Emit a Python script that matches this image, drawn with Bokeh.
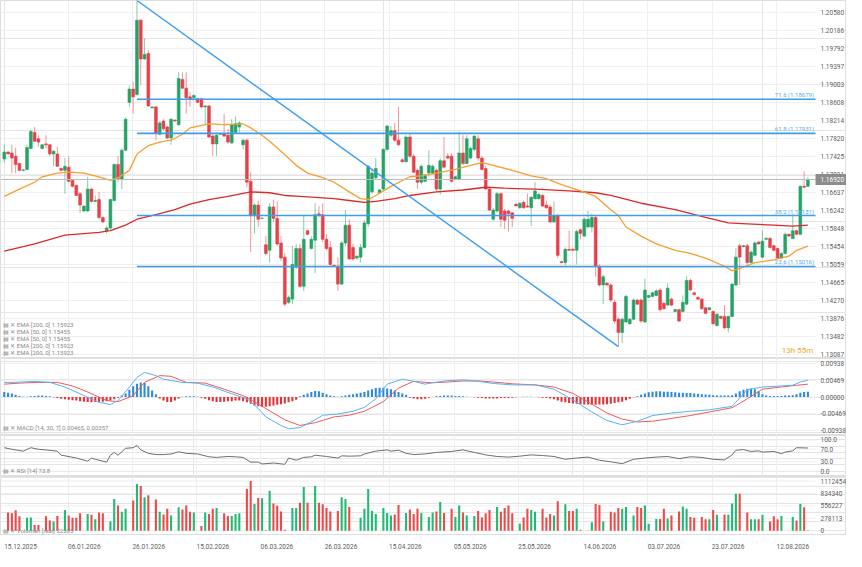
from bokeh.plotting import figure
from bokeh.layouts import column
from bokeh.models import (ColumnDataSource, FixedTicker, CustomJSTickFormatter, Range1d,
                          Label, Grid)
from bokeh.embed import file_html
from bokeh.resources import INLINE
from bokeh.core.properties import value

# ---------------- data ----------------
opens = [1.1737, 1.1752, 1.1750, 1.1743, 1.1727, 1.1712, 1.1714, 1.1760, 1.1795, 1.1781,
         1.1760, 1.1770, 1.1768, 1.1748, 1.1748, 1.1716, 1.1712, 1.1719, 1.1690, 1.1679,
         1.1661, 1.1623, 1.1623, 1.1671, 1.1644, 1.1648, 1.1609, 1.1580, 1.1586, 1.1646,
         1.1725, 1.1692, 1.1756, 1.1861, 1.1890, 1.1878, 1.2041, 1.1956, 1.1968, 1.1849,
         1.1851, 1.1791, 1.1820, 1.1807, 1.1783, 1.1822, 1.1812, 1.1911, 1.1892, 1.1873,
         1.1871, 1.1869, 1.1869, 1.1851, 1.1853, 1.1787, 1.1770, 1.1791, 1.1793, 1.1789,
         1.1772, 1.1795, 1.1807, 1.1768, 1.1778, 1.1688, 1.1613, 1.1636, 1.1607, 1.1549,
         1.1537, 1.1632, 1.1607, 1.1553, 1.1522, 1.1423, 1.1430, 1.1500, 1.1541, 1.1458,
         1.1580, 1.1541, 1.1559, 1.1617, 1.1615, 1.1561, 1.1543, 1.1504, 1.1502, 1.1463,
         1.1553, 1.1592, 1.1543, 1.1520, 1.1522, 1.1543, 1.1595, 1.1665, 1.1696, 1.1663,
         1.1671, 1.1758, 1.1789, 1.1799, 1.1778, 1.1735, 1.1731, 1.1785, 1.1743, 1.1712,
         1.1686, 1.1688, 1.1706, 1.1706, 1.1712, 1.1671, 1.1733, 1.1743, 1.1743, 1.1692,
         1.1692, 1.1750, 1.1727, 1.1739, 1.1758, 1.1781, 1.1739, 1.1716, 1.1671, 1.1605,
         1.1623, 1.1661, 1.1623, 1.1623, 1.1619, 1.1638, 1.1630, 1.1642, 1.1634, 1.1630,
         1.1650, 1.1650, 1.1657, 1.1636, 1.1632, 1.1599, 1.1613, 1.1512, 1.1510, 1.1539,
         1.1539, 1.1537, 1.1582, 1.1568, 1.1588, 1.1588, 1.1609, 1.1502, 1.1461, 1.1465,
         1.1461, 1.1423, 1.1386, 1.1357, 1.1380, 1.1376, 1.1386, 1.1428, 1.1428, 1.1380,
         1.1434, 1.1436, 1.1438, 1.1450, 1.1421, 1.1417, 1.1430, 1.1403, 1.1407, 1.1403,
         1.1419, 1.1471, 1.1444, 1.1434, 1.1430, 1.1411, 1.1407, 1.1403, 1.1372, 1.1392,
         1.1392, 1.1367, 1.1392, 1.1461, 1.1547, 1.1545, 1.1547, 1.1510, 1.1526, 1.1555,
         1.1522, 1.1561, 1.1563, 1.1547, 1.1541, 1.1520, 1.1530, 1.1572, 1.1563, 1.1580,
         1.1572, 1.1677, 1.1677]
highs = [1.1768, 1.1754, 1.1768, 1.1762, 1.1729, 1.1716, 1.1768, 1.1801, 1.1807, 1.1789,
         1.1770, 1.1789, 1.1770, 1.1756, 1.1764, 1.1719, 1.1739, 1.1743, 1.1692, 1.1681,
         1.1665, 1.1634, 1.1698, 1.1673, 1.1657, 1.1665, 1.1611, 1.1590, 1.1650, 1.1727,
         1.1743, 1.1760, 1.1828, 1.1898, 1.1906, 1.2084, 1.2043, 1.2001, 1.1975, 1.1853,
         1.1853, 1.1820, 1.1824, 1.1809, 1.1826, 1.1824, 1.1927, 1.1927, 1.1927, 1.1884,
         1.1878, 1.1871, 1.1871, 1.1855, 1.1855, 1.1795, 1.1795, 1.1793, 1.1836, 1.1803,
         1.1824, 1.1830, 1.1820, 1.1781, 1.1781, 1.1708, 1.1640, 1.1646, 1.1609, 1.1568,
         1.1640, 1.1648, 1.1644, 1.1568, 1.1530, 1.1438, 1.1547, 1.1551, 1.1551, 1.1615,
         1.1582, 1.1568, 1.1640, 1.1634, 1.1640, 1.1572, 1.1557, 1.1506, 1.1522, 1.1557,
         1.1625, 1.1605, 1.1551, 1.1526, 1.1551, 1.1603, 1.1723, 1.1716, 1.1739, 1.1671,
         1.1760, 1.1812, 1.1809, 1.1816, 1.1851, 1.1739, 1.1789, 1.1791, 1.1748, 1.1716,
         1.1725, 1.1704, 1.1756, 1.1725, 1.1716, 1.1739, 1.1785, 1.1750, 1.1750, 1.1700,
         1.1797, 1.1789, 1.1789, 1.1764, 1.1789, 1.1789, 1.1743, 1.1721, 1.1675, 1.1630,
         1.1665, 1.1663, 1.1628, 1.1625, 1.1621, 1.1640, 1.1642, 1.1646, 1.1661, 1.1655,
         1.1686, 1.1663, 1.1661, 1.1646, 1.1636, 1.1644, 1.1617, 1.1514, 1.1543, 1.1580,
         1.1543, 1.1582, 1.1584, 1.1609, 1.1623, 1.1617, 1.1613, 1.1506, 1.1483, 1.1467,
         1.1465, 1.1428, 1.1390, 1.1390, 1.1440, 1.1388, 1.1432, 1.1430, 1.1432, 1.1475,
         1.1440, 1.1446, 1.1452, 1.1454, 1.1423, 1.1465, 1.1434, 1.1409, 1.1409, 1.1438,
         1.1481, 1.1475, 1.1446, 1.1436, 1.1432, 1.1413, 1.1413, 1.1405, 1.1399, 1.1394,
         1.1417, 1.1394, 1.1465, 1.1541, 1.1551, 1.1549, 1.1551, 1.1537, 1.1557, 1.1557,
         1.1580, 1.1566, 1.1566, 1.1549, 1.1543, 1.1533, 1.1576, 1.1574, 1.1615, 1.1582,
         1.1679, 1.1710, 1.1698]
lows = [1.1729, 1.1748, 1.1706, 1.1706, 1.1710, 1.1710, 1.1712, 1.1758, 1.1774, 1.1764,
        1.1758, 1.1760, 1.1743, 1.1721, 1.1719, 1.1710, 1.1661, 1.1686, 1.1675, 1.1657,
        1.1619, 1.1621, 1.1621, 1.1642, 1.1643, 1.1605, 1.1597, 1.1574, 1.1582, 1.1644,
        1.1686, 1.1671, 1.1754, 1.1851, 1.1836, 1.1876, 1.1898, 1.1954, 1.1851, 1.1847,
        1.1778, 1.1789, 1.1799, 1.1781, 1.1768, 1.1818, 1.1810, 1.1890, 1.1836, 1.1851,
        1.1869, 1.1859, 1.1847, 1.1812, 1.1783, 1.1743, 1.1743, 1.1789, 1.1785, 1.1770,
        1.1770, 1.1793, 1.1795, 1.1758, 1.1675, 1.1533, 1.1574, 1.1588, 1.1605, 1.1526,
        1.1510, 1.1599, 1.1547, 1.1514, 1.1415, 1.1419, 1.1419, 1.1496, 1.1456, 1.1448,
        1.1570, 1.1539, 1.1487, 1.1609, 1.1555, 1.1537, 1.1502, 1.1502, 1.1448, 1.1461,
        1.1547, 1.1516, 1.1514, 1.1516, 1.1510, 1.1541, 1.1588, 1.1661, 1.1692, 1.1661,
        1.1667, 1.1754, 1.1785, 1.1774, 1.1766, 1.1729, 1.1729, 1.1739, 1.1706, 1.1671,
        1.1681, 1.1686, 1.1698, 1.1702, 1.1667, 1.1659, 1.1716, 1.1737, 1.1686, 1.1690,
        1.1690, 1.1723, 1.1725, 1.1737, 1.1754, 1.1733, 1.1712, 1.1669, 1.1623, 1.1601,
        1.1619, 1.1588, 1.1584, 1.1578, 1.1588, 1.1634, 1.1628, 1.1628, 1.1630, 1.1590,
        1.1648, 1.1648, 1.1632, 1.1628, 1.1597, 1.1597, 1.1520, 1.1508, 1.1504, 1.1535,
        1.1535, 1.1506, 1.1561, 1.1566, 1.1586, 1.1576, 1.1479, 1.1458, 1.1419, 1.1458,
        1.1423, 1.1376, 1.1326, 1.1334, 1.1378, 1.1374, 1.1384, 1.1417, 1.1378, 1.1378,
        1.1432, 1.1434, 1.1436, 1.1403, 1.1407, 1.1415, 1.1415, 1.1401, 1.1380, 1.1401,
        1.1417, 1.1448, 1.1438, 1.1428, 1.1407, 1.1397, 1.1405, 1.1374, 1.1370, 1.1386,
        1.1365, 1.1357, 1.1390, 1.1458, 1.1461, 1.1543, 1.1506, 1.1508, 1.1524, 1.1549,
        1.1520, 1.1559, 1.1541, 1.1535, 1.1518, 1.1518, 1.1528, 1.1566, 1.1561, 1.1570,
        1.1570, 1.1673, 1.1675]
closes = [1.1752, 1.1748, 1.1739, 1.1725, 1.1712, 1.1713, 1.1762, 1.1797, 1.1776, 1.1774,
          1.1768, 1.1768, 1.1748, 1.1754, 1.1721, 1.1712, 1.1721, 1.1688, 1.1677, 1.1657,
          1.1636, 1.1634, 1.1671, 1.1644, 1.1646, 1.1609, 1.1599, 1.1586, 1.1648, 1.1725,
          1.1694, 1.1756, 1.1824, 1.1890, 1.1873, 1.2041, 1.1956, 1.1966, 1.1853, 1.1851,
          1.1793, 1.1816, 1.1803, 1.1783, 1.1824, 1.1820, 1.1913, 1.1892, 1.1871, 1.1869,
          1.1876, 1.1861, 1.1851, 1.1853, 1.1785, 1.1770, 1.1789, 1.1793, 1.1787, 1.1774,
          1.1812, 1.1814, 1.1816, 1.1778, 1.1686, 1.1613, 1.1636, 1.1605, 1.1607, 1.1530,
          1.1632, 1.1607, 1.1551, 1.1520, 1.1419, 1.1434, 1.1506, 1.1541, 1.1458, 1.1561,
          1.1572, 1.1561, 1.1615, 1.1615, 1.1561, 1.1541, 1.1506, 1.1502, 1.1463, 1.1553,
          1.1592, 1.1518, 1.1518, 1.1524, 1.1543, 1.1597, 1.1721, 1.1706, 1.1716, 1.1669,
          1.1758, 1.1809, 1.1799, 1.1778, 1.1768, 1.1731, 1.1785, 1.1743, 1.1708, 1.1686,
          1.1721, 1.1702, 1.1723, 1.1721, 1.1671, 1.1733, 1.1719, 1.1739, 1.1688, 1.1698,
          1.1750, 1.1727, 1.1781, 1.1760, 1.1787, 1.1739, 1.1714, 1.1671, 1.1625, 1.1625,
          1.1661, 1.1605, 1.1603, 1.1617, 1.1607, 1.1634, 1.1640, 1.1630, 1.1632, 1.1653,
          1.1667, 1.1659, 1.1634, 1.1630, 1.1599, 1.1613, 1.1526, 1.1510, 1.1539, 1.1537,
          1.1537, 1.1578, 1.1574, 1.1605, 1.1605, 1.1609, 1.1502, 1.1461, 1.1479, 1.1461,
          1.1428, 1.1382, 1.1357, 1.1386, 1.1436, 1.1386, 1.1428, 1.1419, 1.1382, 1.1450,
          1.1438, 1.1444, 1.1448, 1.1407, 1.1409, 1.1454, 1.1417, 1.1407, 1.1382, 1.1423,
          1.1471, 1.1450, 1.1440, 1.1430, 1.1409, 1.1399, 1.1411, 1.1376, 1.1397, 1.1388,
          1.1367, 1.1392, 1.1463, 1.1522, 1.1522, 1.1547, 1.1510, 1.1533, 1.1553, 1.1551,
          1.1557, 1.1563, 1.1543, 1.1537, 1.1520, 1.1530, 1.1572, 1.1568, 1.1580, 1.1572,
          1.1677, 1.1675, 1.1692]
volumes = [0, 409000, 389000, 456000, 322000, 0, 288000, 294000, 127000, 127000,
           0, 322000, 228000, 208000, 329000, 0, 463000, 343000, 288000, 288000,
           389000, 0, 375000, 355000, 254000, 409000, 389000, 0, 208000, 711000,
           564000, 423000, 490000, 0, 677000, 1048000, 1000000, 746000, 792000, 0,
           697000, 423000, 363000, 490000, 343000, 0, 524000, 476000, 564000, 423000,
           409000, 0, 107000, 409000, 375000, 490000, 510000, 0, 389000, 329000,
           329000, 375000, 389000, 0, 933000, 1114000, 597000, 732000, 725000, 10000,
           893000, 611000, 557000, 429000, 20000, 0, 510000, 510000, 625000, 980000,
           625000, 5000, 1000000, 625000, 590000, 510000, 429000, 0, 443000, 746000,
           711000, 530000, 0, 0, 288000, 490000, 933000, 443000, 375000, 0,
           510000, 395000, 343000, 363000, 576000, 0, 395000, 476000, 375000, 490000,
           395000, 0, 308000, 409000, 429000, 645000, 395000, 0, 490000, 308000,
           564000, 409000, 343000, 0, 329000, 443000, 294000, 389000, 463000, 0,
           530000, 423000, 510000, 564000, 389000, 0, 161000, 294000, 490000, 463000,
           423000, 0, 490000, 294000, 375000, 343000, 657000, 0, 590000, 443000,
           443000, 490000, 20000, 0, 5000, 187000, 597000, 576000, 208000, 0,
           423000, 409000, 510000, 490000, 530000, 0, 343000, 530000, 510000, 564000,
           153000, 0, 262000, 262000, 490000, 274000, 343000, 0, 429000, 542000,
           490000, 308000, 288000, 0, 308000, 254000, 254000, 463000, 355000, 0,
           363000, 355000, 611000, 826000, 826000, 0, 409000, 254000, 254000, 254000,
           355000, 0, 208000, 322000, 254000, 329000, 0, 0, 308000, 228000,
           597000, 524000, 10000]
macd_hist = [0.0014, 0.0012, 0.0010, 0.0006, 0.0003, 0.0001, 0.0001, 0.0002, 0.0003, 0.0004,
             0.0004, 0.0003, 0.0002, -0.0001, -0.0003, -0.0005, -0.0006, -0.0008, -0.0009, -0.0010,
             -0.0012, -0.0013, -0.0014, -0.0015, -0.0014, -0.0013, -0.0013, -0.0012, -0.0010, -0.0006,
             -0.0002, 0.0004, 0.0010, 0.0020, 0.0030, 0.0037, 0.0041, 0.0040, 0.0030, 0.0018,
             0.0008, -0.0004, -0.0010, -0.0014, -0.0014, -0.0010, -0.0004, 0.0001, 0.0002, 0.0002,
             0.0002, 0.0001, -0.0002, -0.0005, -0.0009, -0.0012, -0.0014, -0.0014, -0.0013, -0.0012,
             -0.0012, -0.0010, -0.0010, -0.0012, -0.0015, -0.0019, -0.0023, -0.0026, -0.0027, -0.0027,
             -0.0026, -0.0024, -0.0022, -0.0020, -0.0018, -0.0015, -0.0012, -0.0008, 0.0002, 0.0006,
             0.0010, 0.0014, 0.0017, 0.0016, 0.0012, 0.0008, 0.0004, 0.0002, 0.0001, 0.0002,
             0.0004, 0.0006, 0.0008, 0.0010, 0.0012, 0.0014, 0.0018, 0.0022, 0.0025, 0.0026,
             0.0026, 0.0024, 0.0022, 0.0018, 0.0014, 0.0010, 0.0006, -0.0002, -0.0004, -0.0006,
             -0.0006, -0.0005, -0.0002, 0.0000, 0.0002, 0.0003, 0.0004, 0.0004, 0.0004, 0.0003,
             0.0003, 0.0002, 0.0001, 0.0000, -0.0001, -0.0002, -0.0003, -0.0004, -0.0004, -0.0004,
             -0.0004, -0.0003, -0.0003, -0.0003, -0.0002, -0.0001, 0.0000, 0.0001, 0.0001, 0.0001,
             0.0000, -0.0001, -0.0002, -0.0003, -0.0004, -0.0006, -0.0010, -0.0013, -0.0015, -0.0017,
             -0.0018, -0.0019, -0.0020, -0.0021, -0.0021, -0.0022, -0.0022, -0.0021, -0.0021, -0.0020,
             -0.0019, -0.0017, -0.0015, -0.0013, -0.0009, -0.0005, -0.0001, 0.0002, 0.0006, 0.0010,
             0.0013, 0.0015, 0.0016, 0.0016, 0.0015, 0.0015, 0.0014, 0.0013, 0.0012, 0.0012,
             0.0011, 0.0011, 0.0010, 0.0009, 0.0008, 0.0007, 0.0006, 0.0005, 0.0004, 0.0004,
             0.0004, 0.0004, 0.0005, 0.0010, 0.0016, 0.0020, 0.0023, 0.0024, 0.0022, 0.0016,
             0.0008, 0.0004, 0.0003, 0.0003, 0.0003, 0.0003, 0.0004, 0.0004, 0.0005, 0.0008,
             0.0012, 0.0014, 0.0015]

macd_idx = [0, 3, 8, 12, 16, 21, 25, 28, 30, 33, 35, 37, 40, 42, 47, 51, 55, 60, 64, 67,
            69, 73, 75, 78, 82, 84, 88, 92, 95, 98, 101, 105, 108, 111, 113, 117, 121, 125, 129, 134,
            140, 145, 150, 155, 159, 163, 167, 171, 176, 181, 186, 192, 196, 200, 205, 208, 210, 212]
macd_line = [0.0041, 0.0041, 0.0044, 0.0041, 0.0028, 0.0004, -0.0015, -0.0021, -0.0010, 0.0028,
             0.0055, 0.0069, 0.0060, 0.0050, 0.0041, 0.0039, 0.0028, 0.0009, -0.0005, -0.0032,
             -0.0056, -0.0080, -0.0089, -0.0086, -0.0064, -0.0051, -0.0048, -0.0040, -0.0029, -0.0005,
             0.0036, 0.0050, 0.0044, 0.0036, 0.0040, 0.0046, 0.0048, 0.0044, 0.0038, 0.0034,
             0.0034, 0.0022, -0.0008, -0.0042, -0.0066, -0.0078, -0.0068, -0.0052, -0.0045, -0.0040,
             -0.0036, -0.0026, 0.0020, 0.0028, 0.0031, 0.0033, 0.0042, 0.0047]
signal_idx = [0, 4, 9, 14, 18, 22, 27, 30, 34, 37, 41, 44, 48, 53, 58, 63, 68, 74, 78, 82,
              87, 91, 95, 100, 104, 108, 111, 113, 117, 121, 125, 129, 134, 140, 145, 150, 155, 159, 163, 167,
              171, 176, 181, 186, 192, 196, 200, 205, 209, 212]
signal_line = [0.0036, 0.0039, 0.0041, 0.0041, 0.0031, 0.0014, -0.0010, -0.0013, 0.0004, 0.0041,
               0.0060, 0.0058, 0.0041, 0.0039, 0.0022, 0.0004, -0.0026, -0.0064, -0.0080, -0.0072,
               -0.0056, -0.0051, -0.0040, -0.0013, 0.0025, 0.0044, 0.0041, 0.0040, 0.0042, 0.0045,
               0.0045, 0.0042, 0.0037, 0.0034, 0.0028, 0.0010, -0.0020, -0.0045, -0.0062, -0.0070,
               -0.0068, -0.0060, -0.0052, -0.0042, -0.0030, -0.0005, 0.0022, 0.0028, 0.0033, 0.0036]

rsi_idx = [0, 2, 5, 7, 9, 11, 14, 15, 16, 19, 22, 23, 24, 27, 28, 29, 30, 32, 34, 35,
           36, 38, 40, 42, 44, 46, 48, 51, 54, 56, 59, 61, 63, 65, 67, 68, 71, 74, 75, 77,
           79, 81, 82, 85, 88, 89, 91, 94, 95, 98, 101, 102, 104, 106, 108, 111, 114, 118, 121, 124,
           127, 130, 133, 136, 139, 142, 145, 148, 151, 154, 157, 160, 163, 166, 169, 172, 175, 178, 181, 184,
           187, 190, 192, 193, 195, 197, 199, 200, 203, 205, 206, 208, 209, 212]
rsi_vals = [75, 70, 64, 75, 70, 68, 64, 51, 49, 42, 32, 42, 38, 29, 51, 60, 51, 73, 75, 82,
            68, 57, 53, 53, 55, 62, 57, 55, 46, 44, 47, 46, 44, 29, 29, 23, 26, 22, 42, 35,
            44, 46, 51, 47, 42, 49, 48, 49, 55, 64, 68, 64, 67, 57, 53, 55, 60, 63, 68, 60,
            52, 47, 45, 48, 52, 50, 47, 38, 42, 45, 35, 30, 24, 38, 42, 45, 47, 40, 46, 44,
            38, 36, 52, 67, 69, 63, 65, 61, 63, 56, 61, 65, 75, 74]

ema50_idx = [0, 4, 8, 10, 14, 17, 21, 25, 28, 30, 33, 35, 38, 41, 44, 47, 49, 54, 58, 63,
             65, 68, 70, 73, 77, 80, 84, 87, 91, 94, 96, 98, 102, 107, 110, 114, 119, 123, 126, 128,
             134, 139, 143, 147, 152, 156, 160, 162, 164, 168, 172, 177, 181, 185, 190, 192, 195, 198, 203, 207,
             209, 212]
ema50_vals = [1.1655, 1.1671, 1.1686, 1.1698, 1.1706, 1.1708, 1.1706, 1.1698, 1.1690, 1.1696,
              1.1712, 1.1748, 1.1766, 1.1774, 1.1778, 1.1791, 1.1805, 1.1814, 1.1812, 1.1814,
              1.1805, 1.1789, 1.1776, 1.1754, 1.1723, 1.1706, 1.1696, 1.1686, 1.1665, 1.1650,
              1.1648, 1.1657, 1.1677, 1.1698, 1.1700, 1.1706, 1.1714, 1.1723, 1.1729, 1.1725,
              1.1712, 1.1700, 1.1694, 1.1681, 1.1667, 1.1655, 1.1626, 1.1613, 1.1588, 1.1568,
              1.1551, 1.1537, 1.1530, 1.1520, 1.1502, 1.1492, 1.1500, 1.1510, 1.1516, 1.1524,
              1.1537, 1.1546]
ema200_idx = [0, 8, 16, 25, 28, 32, 35, 40, 45, 49, 54, 59, 65, 70, 74, 78, 87, 91, 95, 98,
              103, 107, 114, 121, 127, 132, 140, 149, 156, 160, 168, 177, 185, 191, 196, 203, 208, 212]
ema200_vals = [1.1535, 1.1551, 1.1570, 1.1576, 1.1580, 1.1592, 1.1605, 1.1615, 1.1626, 1.1638,
               1.1648, 1.1655, 1.1665, 1.1663, 1.1657, 1.1655, 1.1650, 1.1646, 1.1642, 1.1644,
               1.1650, 1.1657, 1.1665, 1.1669, 1.1675, 1.1673, 1.1671, 1.1667, 1.1663, 1.1657,
               1.1640, 1.1626, 1.1609, 1.1597, 1.1595, 1.1592, 1.1590, 1.1592]

trend_idx = [35, 162]
trend_vals = [1.2084, 1.1326]
fib_start_idx = 35
fib_levels = [1.18679, 1.17931, 1.16131, 1.15016]
fib_labels = ["71.6 (1.18679)", "61.8 (1.17931)", "38.2 (1.16131)", "23.6 (1.15016)"]

price_ticks = [1.20580, 1.20186, 1.19792, 1.19397, 1.19003, 1.18608, 1.18214, 1.17820, 1.17425,
               1.17031, 1.16637, 1.16242, 1.15848, 1.15454, 1.15059, 1.14665, 1.14270, 1.13876,
               1.13482, 1.13087]
macd_ticks = [-0.00938, -0.00469, 0.0, 0.00469, 0.00938]
rsi_ticks = [0, 30, 70, 100]
vol_ticks = [0, 278113, 556227, 834340, 1112454]

date_labels = ["15.12.2025", "06.01.2026", "26.01.2026", "15.02.2026", "06.03.2026", "26.03.2026",
               "15.04.2026", "05.05.2026", "25.05.2026", "14.06.2026", "03.07.2026", "23.07.2026",
               "12.08.2026"]
date_anchor = [0.05, 16.9, 33.9, 50.8, 67.7, 84.6, 101.6, 118.7, 135.7, 152.9, 169.8, 186.7, 203.8]

ema_legend = ["EMA [200, 0] 1.15923", "EMA [50, 0] 1.15455", "EMA [50, 0] 1.15455",
              "EMA [200, 0] 1.15923", "EMA [200, 0] 1.15923"]
macd_legend = "MACD [14, 30, 7] 0.00465, 0.00357"
rsi_legend = "RSI [14] 73.8"
vol_legend = "Volumen [real] 22285"
countdown = "13h 55m"

# ---------------- styling / layout ----------------
FONT = "Roboto"
W = 846
MAIN_H, MACD_H, RSI_H, VOL_H, AX_H = 358, 77, 41, 75, 14
X0, XP = -1.0, 214.0            # XP: right edge of the plotting area
PLOT_PX = 815                   # pixels from X0 to XP
PX_PER_IDX = PLOT_PX / (XP - X0)
XEND = X0 + W / PX_PER_IDX      # the rest of the width holds the value labels
PY0, PY1 = 1.1300, 1.2084
MY0, MY1 = -0.0108, 0.0108
RY0, RY1 = -17, 114
VY0, VY1 = -85000, 1213221
GREEN, RED = "#27a267", "#e5414a"
VGREEN, VRED = "#1fbb74", "#f0494b"
BLUE_LINE = "#3d9df0"
GRID = "#efefef"
LABEL_COLOR = "#606060"

n = len(closes)
assert len(opens) == n and len(highs) == n and len(lows) == n
assert len(volumes) == n and len(macd_hist) == n
idx = list(range(n))
up = [c >= o for o, c in zip(opens, closes)]
ccol = [GREEN if u else RED for u in up]
vcol = [VGREEN if u else VRED for u in up]

x_range = Range1d(X0, XEND)
label_shift = 16.0 / PX_PER_IDX
grid_pos = date_anchor[1:]
label_pos = [a + label_shift for a in date_anchor]
value_label_x = XP + 5.0 / PX_PER_IDX


def make_fig(h, y0, y1, ticks, fmt, bottom=0, xaxis=False):
    p = figure(width=W, height=h, x_range=x_range, y_range=Range1d(y0, y1),
               output_backend="svg", toolbar_location=None,
               x_axis_location="below" if xaxis else None, y_axis_location=None,
               min_border_left=0, min_border_right=0, min_border_top=0,
               min_border_bottom=bottom, background_fill_color="white",
               border_fill_color="white", outline_line_color="#dedede")
    # vertical grid at the date positions
    if xaxis:
        p.xgrid.ticker = FixedTicker(ticks=grid_pos)
        p.xgrid.grid_line_color = GRID
        xa = p.xaxis[0]
        xa.ticker = FixedTicker(ticks=label_pos)
        xa.formatter = CustomJSTickFormatter(
            args=dict(pos=label_pos, labels=date_labels),
            code="const k = pos.findIndex(v => Math.abs(v - tick) < 1e-6); return k >= 0 ? labels[k] : '';")
        xa.axis_line_color = None
        xa.major_tick_line_color = None
        xa.minor_tick_line_color = None
        xa.major_label_text_font = FONT
        xa.major_label_text_font_size = "6.5px"
        xa.major_label_text_color = LABEL_COLOR
        xa.major_label_standoff = 3
    else:
        p.add_layout(Grid(dimension=0, ticker=FixedTicker(ticks=grid_pos), grid_line_color=GRID))
    # horizontal grid lines, limited to the plotting area
    p.segment(x0=[X0] * len(ticks), x1=[XP] * len(ticks), y0=ticks, y1=ticks,
              line_color=GRID, line_width=1)
    # value scale on the right
    src = ColumnDataSource(dict(x=[value_label_x] * len(ticks), y=ticks,
                                t=[fmt % t for t in ticks]))
    p.text(x="x", y="y", text="t", source=src, text_align="left", text_baseline="middle",
           text_font=value(FONT), text_font_size="6.5px", text_color=LABEL_COLOR)
    return p


def legend_text(p, y0, y1, h, off_px, txt, color="#8a8a8a"):
    y = y0 + off_px * (y1 - y0) / h
    p.add_layout(Label(x=X0 + 0.6, y=y, text="\u25a4 \u2715 " + txt, text_font=FONT,
                       text_font_size="6px", text_color=color, text_baseline="middle"))


# ---------- main price panel ----------
pm = make_fig(MAIN_H, PY0, PY1, price_ticks, "%.5f")
pm.segment(x0=idx, y0=lows, x1=idx, y1=highs, line_color=ccol, line_alpha=0.55, line_width=1)
pm.vbar(x=idx, top=[max(o, c) for o, c in zip(opens, closes)],
        bottom=[min(o, c) for o, c in zip(opens, closes)], width=0.74,
        fill_color=ccol, line_color=ccol, line_width=0.6)
pm.line(ema200_idx, ema200_vals, line_color="#d92b2b", line_width=1.3)
pm.line(ema50_idx, ema50_vals, line_color="#f5a030", line_width=1.3)
pm.segment(x0=[X0], x1=[XP], y0=[closes[-1]], y1=[closes[-1]], line_color="#b9b9b9", line_width=1)
pm.line(trend_idx, trend_vals, line_color=BLUE_LINE, line_width=1.4)
pm.segment(x0=[fib_start_idx] * len(fib_levels), x1=[XP] * len(fib_levels),
           y0=fib_levels, y1=fib_levels, line_color=BLUE_LINE, line_width=1.6)
fib_src = ColumnDataSource(dict(x=[XP - 0.4] * len(fib_levels), y=fib_levels, t=fib_labels))
pm.text(x="x", y="y", text="t", source=fib_src, text_align="right", text_baseline="bottom",
        y_offset=-1, text_font=value(FONT), text_font_size="6px", text_color="#5aaaf0")
for k, t in enumerate(ema_legend):
    legend_text(pm, PY0, PY1, MAIN_H, 34 - 7 * k, t)
pm.add_layout(Label(x=XP - 0.6, y=PY0 + 8 * (PY1 - PY0) / MAIN_H, text=countdown,
                    text_font=FONT, text_font_size="8px", text_color="#f5a623",
                    text_align="right", text_baseline="middle"))
# last price tag
pm.rect(x=[XP + 17.0 / PX_PER_IDX], y=[closes[-1]], width=34, height=11,
        width_units="screen", height_units="screen", fill_color="#8c8c8c", line_color=None)
pm.text(x=[value_label_x], y=[closes[-1]], text=["%.5f" % closes[-1]], text_align="left",
        text_baseline="middle", text_font=value(FONT), text_font_size="6.5px",
        text_color="white")

# ---------- MACD panel ----------
pmacd = make_fig(MACD_H, MY0, MY1, macd_ticks, "%.5f")
hcol = ["#2d8bd8" if v >= 0 else "#e2323a" for v in macd_hist]
pmacd.vbar(x=idx, top=macd_hist, bottom=0, width=0.55, fill_color=hcol, line_color=None)
pmacd.line(signal_idx, signal_line, line_color="#ee5b5b", line_width=1)
pmacd.line(macd_idx, macd_line, line_color="#58b2f2", line_width=1)
legend_text(pmacd, MY0, MY1, MACD_H, 8, macd_legend)

# ---------- RSI panel ----------
prsi = make_fig(RSI_H, RY0, RY1, rsi_ticks, "%.1f")
prsi.line(rsi_idx, rsi_vals, line_color="#6f6f6f", line_width=1)
legend_text(prsi, RY0, RY1, RSI_H, 6, rsi_legend)

# ---------- volume panel ----------
pvol = make_fig(VOL_H, VY0, VY1, vol_ticks, "%d", bottom=AX_H, xaxis=True)
pvol.vbar(x=idx, top=volumes, bottom=0, width=0.55, fill_color=vcol, line_color=None)
legend_text(pvol, VY0, VY1, VOL_H - AX_H, 4, vol_legend)

layout = column(pm, pmacd, prsi, pvol, spacing=0)
open("out.html", "w").write(file_html(layout, INLINE))
